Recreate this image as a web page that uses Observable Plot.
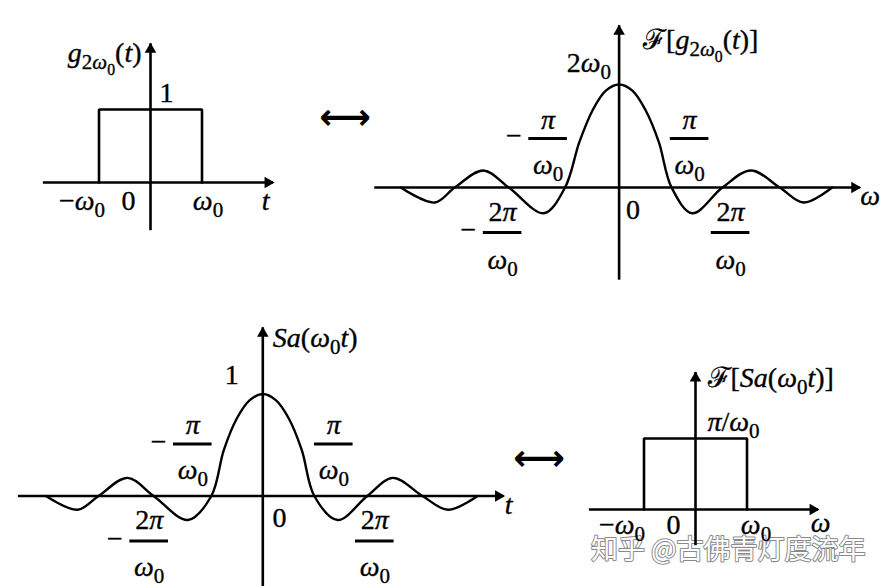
<!DOCTYPE html>
<html>
<head>
<meta charset="utf-8">
<script src="https://cdn.jsdelivr.net/npm/d3@7"></script>
<script src="https://cdn.jsdelivr.net/npm/@observablehq/plot@0.6"></script>
<style>
  html, body { margin: 0; padding: 0; background: #fff; }
  #wrap { position: relative; width: 888px; height: 586px; overflow: hidden; background: #fff; }
  .dbl { position: absolute; font-family: "DejaVu Sans", sans-serif; font-weight: bold; font-size: 36px; line-height: 1; transform: translate(-50%, -50%); color: #000; }
</style>
</head>
<body>
<div id="wrap"></div>
<script>
// ---------------- data ----------------
// Panel 1: gate g_{2ω0}(t)  (t in units of ω0, height 1)
const gateT = [-1, -1, 1, 1];
const gateV = [0, 1, 1, 0];
// Panel 2: F[g_{2ω0}(t)]  (ω in units of π/ω0, value relative to peak 2ω0)
const specW = [-4.12, -3.48, -3.10, -2.56, -2.08, -1.42, -1.02, -0.75, -0.50, -0.25, 0, 0.25, 0.50, 0.75, 0.99, 1.38, 1.95, 2.49, 3.03, 3.48, 4.02];
const specV = [0, -0.146, 0, 0.165, 0, -0.25, 0, 0.44, 0.75, 0.94, 1, 0.94, 0.75, 0.44, 0, -0.25, 0, 0.165, 0, -0.146, 0];
// Panel 3: Sa(ω0 t)  (t in units of π/ω0, peak 1)
const saT = [-4.17, -3.56, -3.16, -2.60, -2.10, -1.44, -0.99, -0.75, -0.50, -0.25, 0, 0.25, 0.50, 0.75, 0.99, 1.44, 2.01, 2.50, 3.07, 3.56, 4.13];
const saV = [0, -0.135, 0, 0.178, 0, -0.235, 0, 0.45, 0.76, 0.94, 1, 0.94, 0.76, 0.45, 0, -0.235, 0, 0.178, 0, -0.135, 0];
// Panel 4: F[Sa(ω0 t)]  (ω in units of ω0, height π/ω0)
const boxW = [-1, -1, 1, 1];
const boxV = [0, 1, 1, 0];
// axis extents [min, max] per panel (in each panel's units)
const ax1X = [-2.08, 2.39], ax1Y = [-0.66, 1.90];
const ax2X = [-4.61, 4.55], ax2Y = [-0.90, 1.57];
const ax3X = [-4.70, 4.64], ax3Y = [-0.95, 1.65];
const ax4X = [-2.06, 2.39], ax4Y = [-0.51, 1.93];
// labels
const labels1 = ["g_{2ω_0}(t)", "1", "−ω_0", "0", "ω_0", "t"];
const labels2 = ["ℱ[g_{2ω_0}(t)]", "2ω_0", "π", "ω_0", "2π", "0", "ω"];
const labels3 = ["Sa(ω_0t)", "1", "π", "ω_0", "2π", "0", "t"];
const labels4 = ["ℱ[Sa(ω_0t)]", "π/ω_0", "−ω_0", "0", "ω_0", "ω"];
const pairSymbol = "⟷";
const watermark = "知乎 @古佛青灯度流年";

// ---------------- helpers ----------------
const wrap = document.getElementById("wrap");
const SW = 2.6, FS = 28;
const SUB = 0.75, SHIFT = 0.25;
const HEAD_R = 4.3;
const tip = 2 * Math.sqrt(Math.PI * HEAD_R * HEAD_R / (3 * Math.sqrt(3)));

function axes(xr, yr) {
  return [
    Plot.ruleY([{y: 0, x1: xr[0], x2: xr[1]}], {y: "y", x1: "x1", x2: "x2", strokeWidth: SW, stroke: "black"}),
    Plot.ruleX([{x: 0, y1: yr[0], y2: yr[1]}], {x: "x", y1: "y1", y2: "y2", strokeWidth: SW, stroke: "black"}),
    Plot.dot([{x: xr[1], y: 0}], {x: "x", y: "y", symbol: "triangle", r: HEAD_R, fill: "black", stroke: "none", rotate: 90, dx: -tip + 1}),
    Plot.dot([{x: 0, y: yr[1]}], {x: "x", y: "y", symbol: "triangle", r: HEAD_R, fill: "black", stroke: "none", dy: tip - 1})
  ];
}
function T(x, y, text, dx, dy, anchor = "middle") {
  return Plot.text([{x, y, text}], {x: "x", y: "y", text: "text", dx, dy, textAnchor: anchor, fontSize: FS, fill: "black", stroke: "black", strokeWidth: 0.35});
}
function frac(ux, x, dx, num, den, dyNum, dyBar, dyDen, neg) {
  const hw = 19.3;
  const m = [
    T(x, 0, num, dx, dyNum),
    T(x, 0, den, dx, dyDen),
    Plot.ruleY([{y: 0, x1: x + (dx - hw) / ux, x2: x + (dx + hw) / ux}], {y: "y", x1: "x1", x2: "x2", dy: dyBar, strokeWidth: 2.8, stroke: "black"})
  ];
  if (neg) m.push(T(x, 0, "−", dx - hw - 7, dyBar - 2, "end"));
  return m;
}
function pts(xs, ys) { return xs.map((x, i) => ({x, y: ys[i]})); }

// minimal sub-script markup: "_x" or "_{...}"
function parse(str, lvl, out) {
  let i = 0;
  while (i < str.length) {
    const c = str[i];
    if (c === "_") {
      let inner;
      if (str[i + 1] === "{") {
        let depth = 1, j = i + 2;
        while (depth && j < str.length) { if (str[j] === "{") depth++; else if (str[j] === "}") depth--; j++; }
        inner = str.slice(i + 2, j - 1); i = j;
      } else { inner = str[i + 1]; i += 2; }
      parse(inner, lvl + 1, out);
    } else { out.push({c, lvl}); i++; }
  }
  return out;
}
function rich(svg) {
  d3.select(svg).selectAll("text").each(function () {
    const str = this.textContent;
    if (/[\u3000-\u9fff]/.test(str)) return;
    if (!/[_A-Za-zα-ω]/.test(str)) return;
    const base = parseFloat(getComputedStyle(this).fontSize) || FS;
    const runs = [];
    for (const {c, lvl} of parse(str, 0, [])) {
      const it = /[A-Za-zα-ω]/.test(c);
      const last = runs[runs.length - 1];
      if (last && last.lvl === lvl && last.it === it) last.s += c; else runs.push({s: c, lvl, it});
    }
    this.textContent = "";
    let cur = 0;
    for (const r of runs) {
      let off = 0;
      for (let k = 1; k <= r.lvl; k++) off += base * Math.pow(SUB, k - 1) * SHIFT;
      const ts = d3.select(this).append("tspan")
        .attr("font-size", base * Math.pow(SUB, r.lvl))
        .attr("font-style", r.it ? "italic" : "normal")
        .text(r.s);
      if (off !== cur) ts.attr("dy", off - cur);
      cur = off;
    }
  });
}
function build({left, top, width, height, ox, oy, ux, uy, marks}) {
  const svg = Plot.plot({
    width, height, margin: 0,
    x: {type: "linear", domain: [-ox / ux, (width - ox) / ux], range: [0, width], axis: null},
    y: {type: "linear", domain: [-(height - oy) / uy, oy / uy], range: [height, 0], axis: null},
    style: {background: "transparent", fontFamily: "'Liberation Serif', 'DejaVu Serif', serif", overflow: "visible"},
    marks
  });
  Object.assign(svg.style, {position: "absolute", left: left + "px", top: top + "px", maxWidth: "none"});
  wrap.appendChild(svg);
  rich(svg);
}

// ---------------- Panel 1 ----------------
{
  const ux = 51.5;
  build({
    left: 0, top: 0, width: 300, height: 260, ox: 150, oy: 182, ux, uy: 73,
    marks: [
      ...axes(ax1X, ax1Y),
      Plot.line(pts(gateT, gateV), {x: "x", y: "y", strokeWidth: SW, stroke: "black", strokeLinejoin: "miter"}),
      T(0, 1, labels1[0], -9, -56, "end"),
      T(0, 1, labels1[1], 16, -16),
      T(-1, 0, labels1[2], -17, 19),
      T(0, 0, labels1[3], -22, 19),
      T(1, 0, labels1[4], 6, 19),
      T(ax1X[1], 0, labels1[5], -8, 19)
    ]
  });
}

// ---------------- Panel 2 ----------------
{
  const ux = 53;
  build({
    left: 300, top: 0, width: 588, height: 290, ox: 318.6, oy: 187, ux, uy: 103,
    marks: [
      ...axes(ax2X, ax2Y),
      Plot.line(pts(specW, specV), {x: "x", y: "y", curve: "catmull-rom", strokeWidth: 2.4, stroke: "black"}),
      T(0, 1, labels2[0], 24, -44, "start"),
      T(0, 1, labels2[1], -8, -21, "end"),
      ...frac(ux, 1, 17.5, labels2[2], labels2[3], -67, -49, -22, false),
      ...frac(ux, -1, -18, labels2[2], labels2[3], -67, -49, -22, true),
      ...frac(ux, 2, 5.5, labels2[4], labels2[3], 25, 45, 73, false),
      ...frac(ux, -2, -10.5, labels2[4], labels2[3], 25, 45, 73, true),
      T(0, 0, labels2[5], 14, 23),
      T(ax2X[1], 0, labels2[6], 10, 9)
    ]
  });
}

// ---------------- Panel 3 ----------------
{
  const ux = 52;
  build({
    left: 0, top: 290, width: 520, height: 296, ox: 262.3, oy: 205.5, ux, uy: 102,
    marks: [
      ...axes(ax3X, ax3Y),
      Plot.line(pts(saT, saV), {x: "x", y: "y", curve: "catmull-rom", strokeWidth: 2.4, stroke: "black"}),
      T(0, 1, labels3[0], 10, -56, "start"),
      T(0, 1, labels3[1], -31, -19),
      ...frac(ux, 1, 19, labels3[2], labels3[3], -71, -52, -26, false),
      ...frac(ux, -1, -18, labels3[2], labels3[3], -71, -52, -26, true),
      ...frac(ux, 2, 8, labels3[4], labels3[3], 24, 45, 71, false),
      ...frac(ux, -2, -9.6, labels3[4], labels3[3], 24, 45, 71, true),
      T(0, 0, labels3[5], 16.6, 22),
      T(ax3X[1], 0, labels3[6], 4.5, 9)
    ]
  });
}

// ---------------- Panel 4 ----------------
{
  const ux = 51.5;
  build({
    left: 540, top: 340, width: 348, height: 246, ox: 155, oy: 169, ux, uy: 71,
    marks: [
      Plot.text([watermark], {frameAnchor: "bottom-right", text: d => d, textAnchor: "end", dx: -23, dy: -28,
        fontSize: 27, fontFamily: "'Noto Sans CJK SC', sans-serif", fill: "white", stroke: "#8a8a8a", strokeWidth: 2}),
      ...axes(ax4X, ax4Y),
      Plot.line(pts(boxW, boxV), {x: "x", y: "y", strokeWidth: SW, stroke: "black", strokeLinejoin: "miter"}),
      T(0, 1, labels4[0], 12, -60, "start"),
      T(0, 1, labels4[1], 12, -16, "start"),
      T(-1, 0, labels4[2], -22, 16),
      T(0, 0, labels4[3], -22, 16),
      T(1, 0, labels4[4], 9, 16),
      T(ax4X[1], 0, labels4[5], 2, 14)
    ]
  });
}

// ---------------- transform-pair arrows ----------------
for (const [x, y] of [[345, 117], [539, 458]]) {
  const d = document.createElement("div");
  d.className = "dbl";
  d.textContent = pairSymbol;
  d.style.left = x + "px";
  d.style.top = y + "px";
  wrap.appendChild(d);
}
</script>
</body>
</html>
